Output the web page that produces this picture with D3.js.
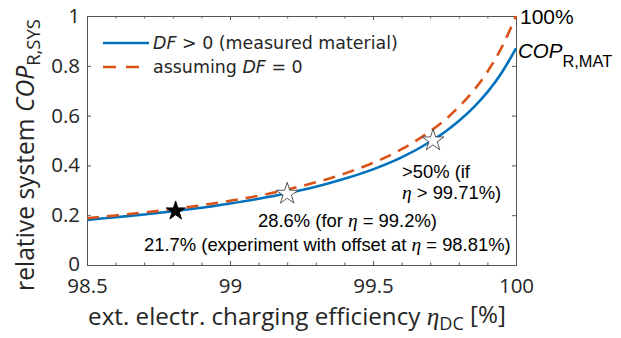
<!DOCTYPE html>
<html><head><meta charset="utf-8">
<script src="https://cdn.jsdelivr.net/npm/d3@7/dist/d3.min.js"></script>
<style>
html,body{margin:0;padding:0;background:#fff;}
svg{display:block;}
</style></head>
<body>
<svg id="chart" width="621" height="338"></svg>
<script>
// ---- data ----
const etaValues = [98.5, 98.6, 98.7, 98.8, 98.9, 99.0, 99.1, 99.2, 99.3, 99.4, 99.5, 99.6, 99.7, 99.75, 99.8, 99.85, 99.9, 99.95, 100.0];
const copMeasured = [0.181, 0.192, 0.203, 0.216, 0.230, 0.247, 0.266, 0.288, 0.314, 0.346, 0.384, 0.432, 0.495, 0.533, 0.578, 0.631, 0.694, 0.772, 0.870];
const copIdeal    = [0.188, 0.199, 0.211, 0.224, 0.240, 0.258, 0.278, 0.303, 0.332, 0.367, 0.410, 0.465, 0.537, 0.581, 0.635, 0.698, 0.776, 0.874, 1.000];
const starEta = [98.81, 99.2, 99.71];
const starCop = [0.217, 0.286, 0.50];
const starFilled = [true, false, false];
const xTicks = [98.5, 99, 99.5, 100];
const xMinorTicks = [98.6, 98.7, 98.8, 98.9, 99.1, 99.2, 99.3, 99.4, 99.6, 99.7, 99.8, 99.9];
const yTicks = [0, 0.2, 0.4, 0.6, 0.8, 1];
const yTickLabels = ["0", "0.2", "0.4", "0.6", "0.8", "1"];
const xTickLabels = ["98.5", "99", "99.5", "100"];

// ---- layout ----
const L = 87, R = 516, T = 16, B = 265;
const blue = "#0072BD", orange = "#D95319", axisCol = "#555";
const sansTick = "'Open Sans', 'Noto Sans', sans-serif";
const legendFont = "'DejaVu Sans', 'Open Sans', sans-serif";
const arial = "'Liberation Sans', Arial, sans-serif";
const serif = "'Liberation Serif', 'Times New Roman', serif";

const svg = d3.select("#chart");
const x = d3.scaleLinear().domain([98.5, 100]).range([L, R]);
const y = d3.scaleLinear().domain([0, 1]).range([B, T]);

svg.append("defs").append("clipPath").attr("id", "clip")
  .append("rect").attr("x", L).attr("y", T - 4).attr("width", R - L + 4).attr("height", B - T + 4);

// fit a text element's font-size so its rendered width equals target
function fit(sel, target) {
  const fs = parseFloat(sel.attr("font-size"));
  const w = sel.node().getBBox().width;
  if (w > 0) sel.attr("font-size", (fs * target / w).toFixed(2));
}

// axes box
const tl = 4;
const gx = svg.append("g").attr("transform", `translate(0,${B})`)
  .call(d3.axisBottom(x).tickValues(xTicks).tickSize(-tl).tickFormat((d,i)=>xTickLabels[i]).tickPadding(13));
const gxm = svg.append("g").attr("transform", `translate(0,${B})`)
  .call(d3.axisBottom(x).tickValues(xMinorTicks).tickSize(-2.5).tickFormat(""));
const gxt = svg.append("g").attr("transform", `translate(0,${T})`)
  .call(d3.axisTop(x).tickValues(xTicks).tickSize(-tl).tickFormat(""));
const gxtm = svg.append("g").attr("transform", `translate(0,${T})`)
  .call(d3.axisTop(x).tickValues(xMinorTicks).tickSize(-2.5).tickFormat(""));
const gy = svg.append("g").attr("transform", `translate(${L},0)`)
  .call(d3.axisLeft(y).tickValues(yTicks).tickSize(-tl).tickFormat((d,i)=>yTickLabels[i]).tickPadding(7));
const gyr = svg.append("g").attr("transform", `translate(${R},0)`)
  .call(d3.axisRight(y).tickValues(yTicks).tickSize(-tl).tickFormat(""));
[gx, gxm, gxt, gxtm, gy, gyr].forEach(g => {
  g.selectAll("path.domain").attr("stroke", axisCol).attr("stroke-width", 1);
  g.selectAll(".tick line").attr("stroke", axisCol).attr("stroke-width", 1);
});
gx.selectAll(".tick text").attr("font-family", sansTick).attr("font-size", 20.5).attr("fill", "#262626").attr("dy", "0.71em");
gy.selectAll(".tick text").attr("font-family", sansTick).attr("font-size", 20.5).attr("fill", "#262626");
gy.select(".tick:first-of-type text").attr("dy", "0.25em");

// curves
const line = d3.line().x(d => x(d[0])).y(d => y(d[1])).curve(d3.curveMonotoneX);
const measured = etaValues.map((e, i) => [e, copMeasured[i]]);
const ideal = etaValues.map((e, i) => [e, copIdeal[i]]);
const plot = svg.append("g").attr("clip-path", "url(#clip)");
plot.append("path").datum(measured).attr("d", line).attr("fill", "none")
  .attr("stroke", blue).attr("stroke-width", 2.6);
plot.append("path").datum(ideal).attr("d", line).attr("fill", "none")
  .attr("stroke", orange).attr("stroke-width", 2.6).attr("stroke-dasharray", "12,8");

// stars
const star = d3.symbol().type(d3.symbolStar);
starEta.forEach((e, i) => {
  const r = starFilled[i] ? 10 : 11.5;
  svg.append("path").attr("d", star.size(r * r / 0.8908130915292852)())
    .attr("transform", `translate(${x(e)},${y(starCop[i])})`)
    .attr("fill", starFilled[i] ? "#000" : "#fff")
    .attr("stroke", starFilled[i] ? "#000" : "#444").attr("stroke-width", 0.9);
});

// legend
const lg = svg.append("g");
lg.append("line").attr("x1", 103).attr("x2", 149).attr("y1", 43).attr("y2", 43)
  .attr("stroke", blue).attr("stroke-width", 2.6);
lg.append("line").attr("x1", 103).attr("x2", 139).attr("y1", 67).attr("y2", 67)
  .attr("stroke", orange).attr("stroke-width", 2.6).attr("stroke-dasharray", "13,10");
const t1 = lg.append("text").attr("x", 153).attr("y", 49).attr("font-family", legendFont).attr("font-size", 17).attr("fill", "#262626");
t1.append("tspan").attr("font-style", "italic").text("DF");
t1.append("tspan").text(" > 0 (measured material)");
fit(t1, 245);
const t2 = lg.append("text").attr("x", 153).attr("y", 73).attr("font-family", legendFont).attr("font-size", t1.attr("font-size")).attr("fill", "#262626");
t2.append("tspan").text("assuming ");
t2.append("tspan").attr("font-style", "italic").text("DF");
t2.append("tspan").text(" = 0");

// annotations
function annot(xp, yp, parts) {
  const t = svg.append("text").attr("x", xp).attr("y", yp).attr("font-family", arial).attr("font-size", 18.4).attr("fill", "#000");
  parts.forEach(p => {
    const s = t.append("tspan").text(p.t);
    if (p.eta) s.attr("font-family", serif).attr("font-style", "italic").attr("font-size", 19.5);
  });
  return t;
}
annot(402, 178, [{t: ">50% (if"}]);
annot(402, 199, [{t: "η", eta: true}, {t: " > 99.71%)"}]);
annot(258, 227, [{t: "28.6% (for "}, {t: "η", eta: true}, {t: " = 99.2%)"}]);
annot(144, 251, [{t: "21.7% (experiment with offset at "}, {t: "η", eta: true}, {t: " = 98.81%)"}]);

// right side labels
svg.append("text").attr("x", 520).attr("y", 24).attr("font-family", arial).attr("font-size", 21).text("100%");
const cop = svg.append("text").attr("x", 518).attr("y", 58).attr("font-family", arial).attr("font-size", 20.5);
cop.append("tspan").attr("font-style", "italic").text("COP");
cop.append("tspan").attr("font-size", "0.8em").attr("dy", 9).text("R,MAT");

// axis labels
const xl = svg.append("text").attr("x", 297).attr("y", 325).attr("text-anchor", "middle")
  .attr("font-family", sansTick).attr("font-size", 22).attr("fill", "#262626");
xl.append("tspan").text("ext. electr. charging efficiency ");
xl.append("tspan").attr("font-family", serif).attr("font-style", "italic").attr("font-size", "1.05em").text("η");
xl.append("tspan").attr("font-size", "0.75em").attr("dy", "0.3em").text("DC");
xl.append("tspan").attr("dy", "-0.3em").text(" [%]");
fit(xl, 418);

const yl = svg.append("text").attr("transform", "translate(34,155) rotate(-90)").attr("text-anchor", "middle")
  .attr("font-family", sansTick).attr("font-size", 22).attr("fill", "#262626");
yl.append("tspan").text("relative system ");
yl.append("tspan").attr("font-style", "italic").text("COP");
yl.append("tspan").attr("font-size", "0.75em").attr("dy", "0.3em").text("R,SYS");
fit(yl, 272);
</script>
</body></html>
